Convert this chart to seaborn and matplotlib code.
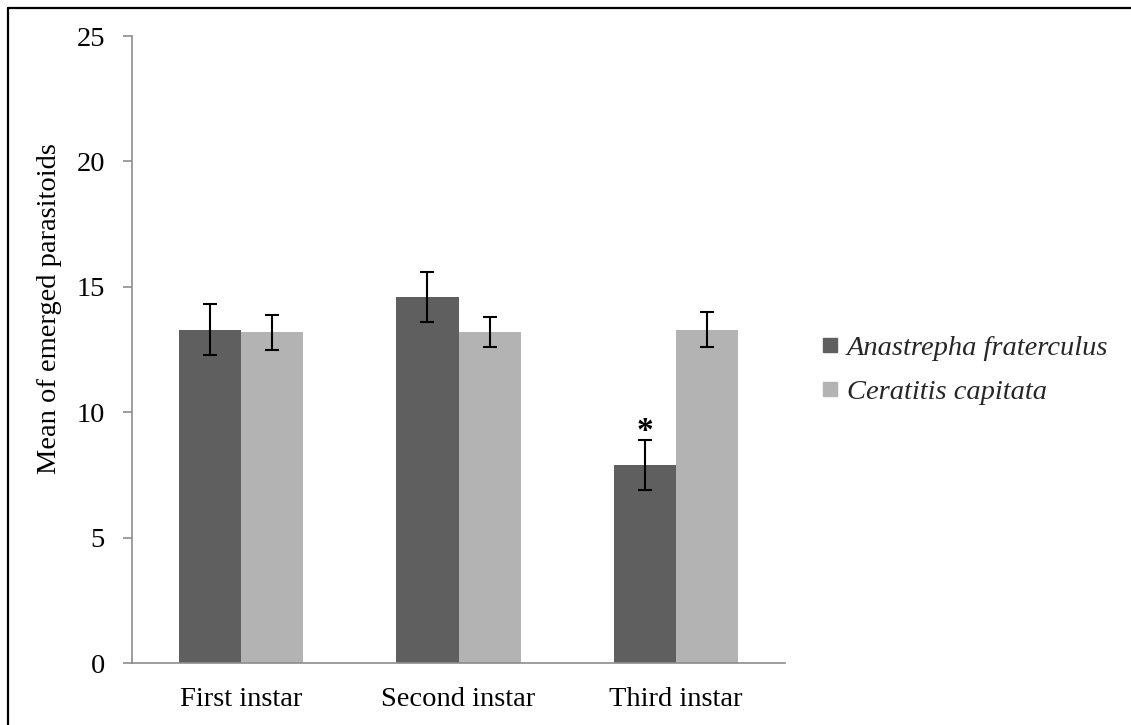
import matplotlib
matplotlib.use("Agg")
import matplotlib.pyplot as plt
import seaborn as sns
import pandas as pd
from matplotlib.lines import Line2D

categories = ["First instar", "Second instar", "Third instar"]
species = ["Anastrepha fraterculus", "Ceratitis capitata"]
af_means = [13.3, 14.6, 7.9]
af_errors = [1.0, 1.0, 1.0]
cc_means = [13.2, 13.2, 13.3]
cc_errors = [0.7, 0.6, 0.7]
y_ticks = [0, 5, 10, 15, 20, 25]
y_label = "Mean of emerged parasitoids"
star_pos = 9.25

sns.set_style("white")
plt.rcParams['font.family'] = ['Liberation Serif', 'DejaVu Serif']

df = pd.DataFrame({
    "instar": categories * 2,
    "species": [species[0]] * 3 + [species[1]] * 3,
    "mean": af_means + cc_means,
})
means = {species[0]: af_means, species[1]: cc_means}
errs = {species[0]: af_errors, species[1]: cc_errors}
colors = ["#5f5f5f", "#b3b3b3"]

fig = plt.figure(figsize=(11.31, 7.25), dpi=100)
ax = fig.add_axes([132 / 1131, 1 - 663.3 / 725, (785 - 132) / 1131, (663.3 - 36) / 725])
sns.barplot(data=df, x="instar", y="mean", hue="species", order=categories,
            hue_order=species, palette=colors, width=0.57, errorbar=None,
            ax=ax, legend=False, saturation=1, linewidth=0)

for cont, sp in zip(ax.containers, species):
    xs = [p.get_x() + p.get_width() / 2 for p in cont]
    ax.errorbar(xs, means[sp], yerr=errs[sp], fmt="none", ecolor="black",
                elinewidth=1.5, capsize=5, capthick=1.5, zorder=5)
    if sp == species[0]:
        ax.text(xs[2], star_pos, "*", ha="center", va="center",
                fontsize=24, fontweight="bold", color="black")

ax.set_xlim(-0.5, 2.5)
ax.set_ylim(0, 25)
ax.set_yticks(y_ticks)
ax.set_xlabel("")
ax.set_ylabel(y_label, fontsize=20.5, color="black")
ax.yaxis.set_label_coords(-0.107, 0.565)
for s in ["top", "right"]:
    ax.spines[s].set_visible(False)
for s in ["left", "bottom"]:
    ax.spines[s].set_color("#8c8c8c")
    ax.spines[s].set_linewidth(1.2)
ax.tick_params(axis="y", length=6.5, width=1.2, color="#8c8c8c", pad=13,
               labelsize=20.5, labelcolor="black", left=True)
ax.tick_params(axis="x", length=0, pad=17, labelsize=20.5, labelcolor="black")

handles = [Line2D([0], [0], marker="s", linestyle="none", markersize=10,
                  markerfacecolor=c, markeredgecolor=c) for c in colors]
leg = fig.legend(handles, species, loc="center left",
                 bbox_to_anchor=(807 / 1131, 1 - 370 / 725), frameon=False,
                 prop={"size": 20.5, "style": "italic"}, handlelength=0.6,
                 handletextpad=0.3, labelspacing=0.65, borderpad=0)

fig.add_artist(Line2D([8 / 1131, 1], [1 - 8 / 725, 1 - 8 / 725],
                      transform=fig.transFigure, color="black", lw=1.6))
fig.add_artist(Line2D([8 / 1131, 8 / 1131], [0, 1 - 8 / 725],
                      transform=fig.transFigure, color="black", lw=1.6))

fig.savefig("out.png", dpi=100, facecolor="white")
